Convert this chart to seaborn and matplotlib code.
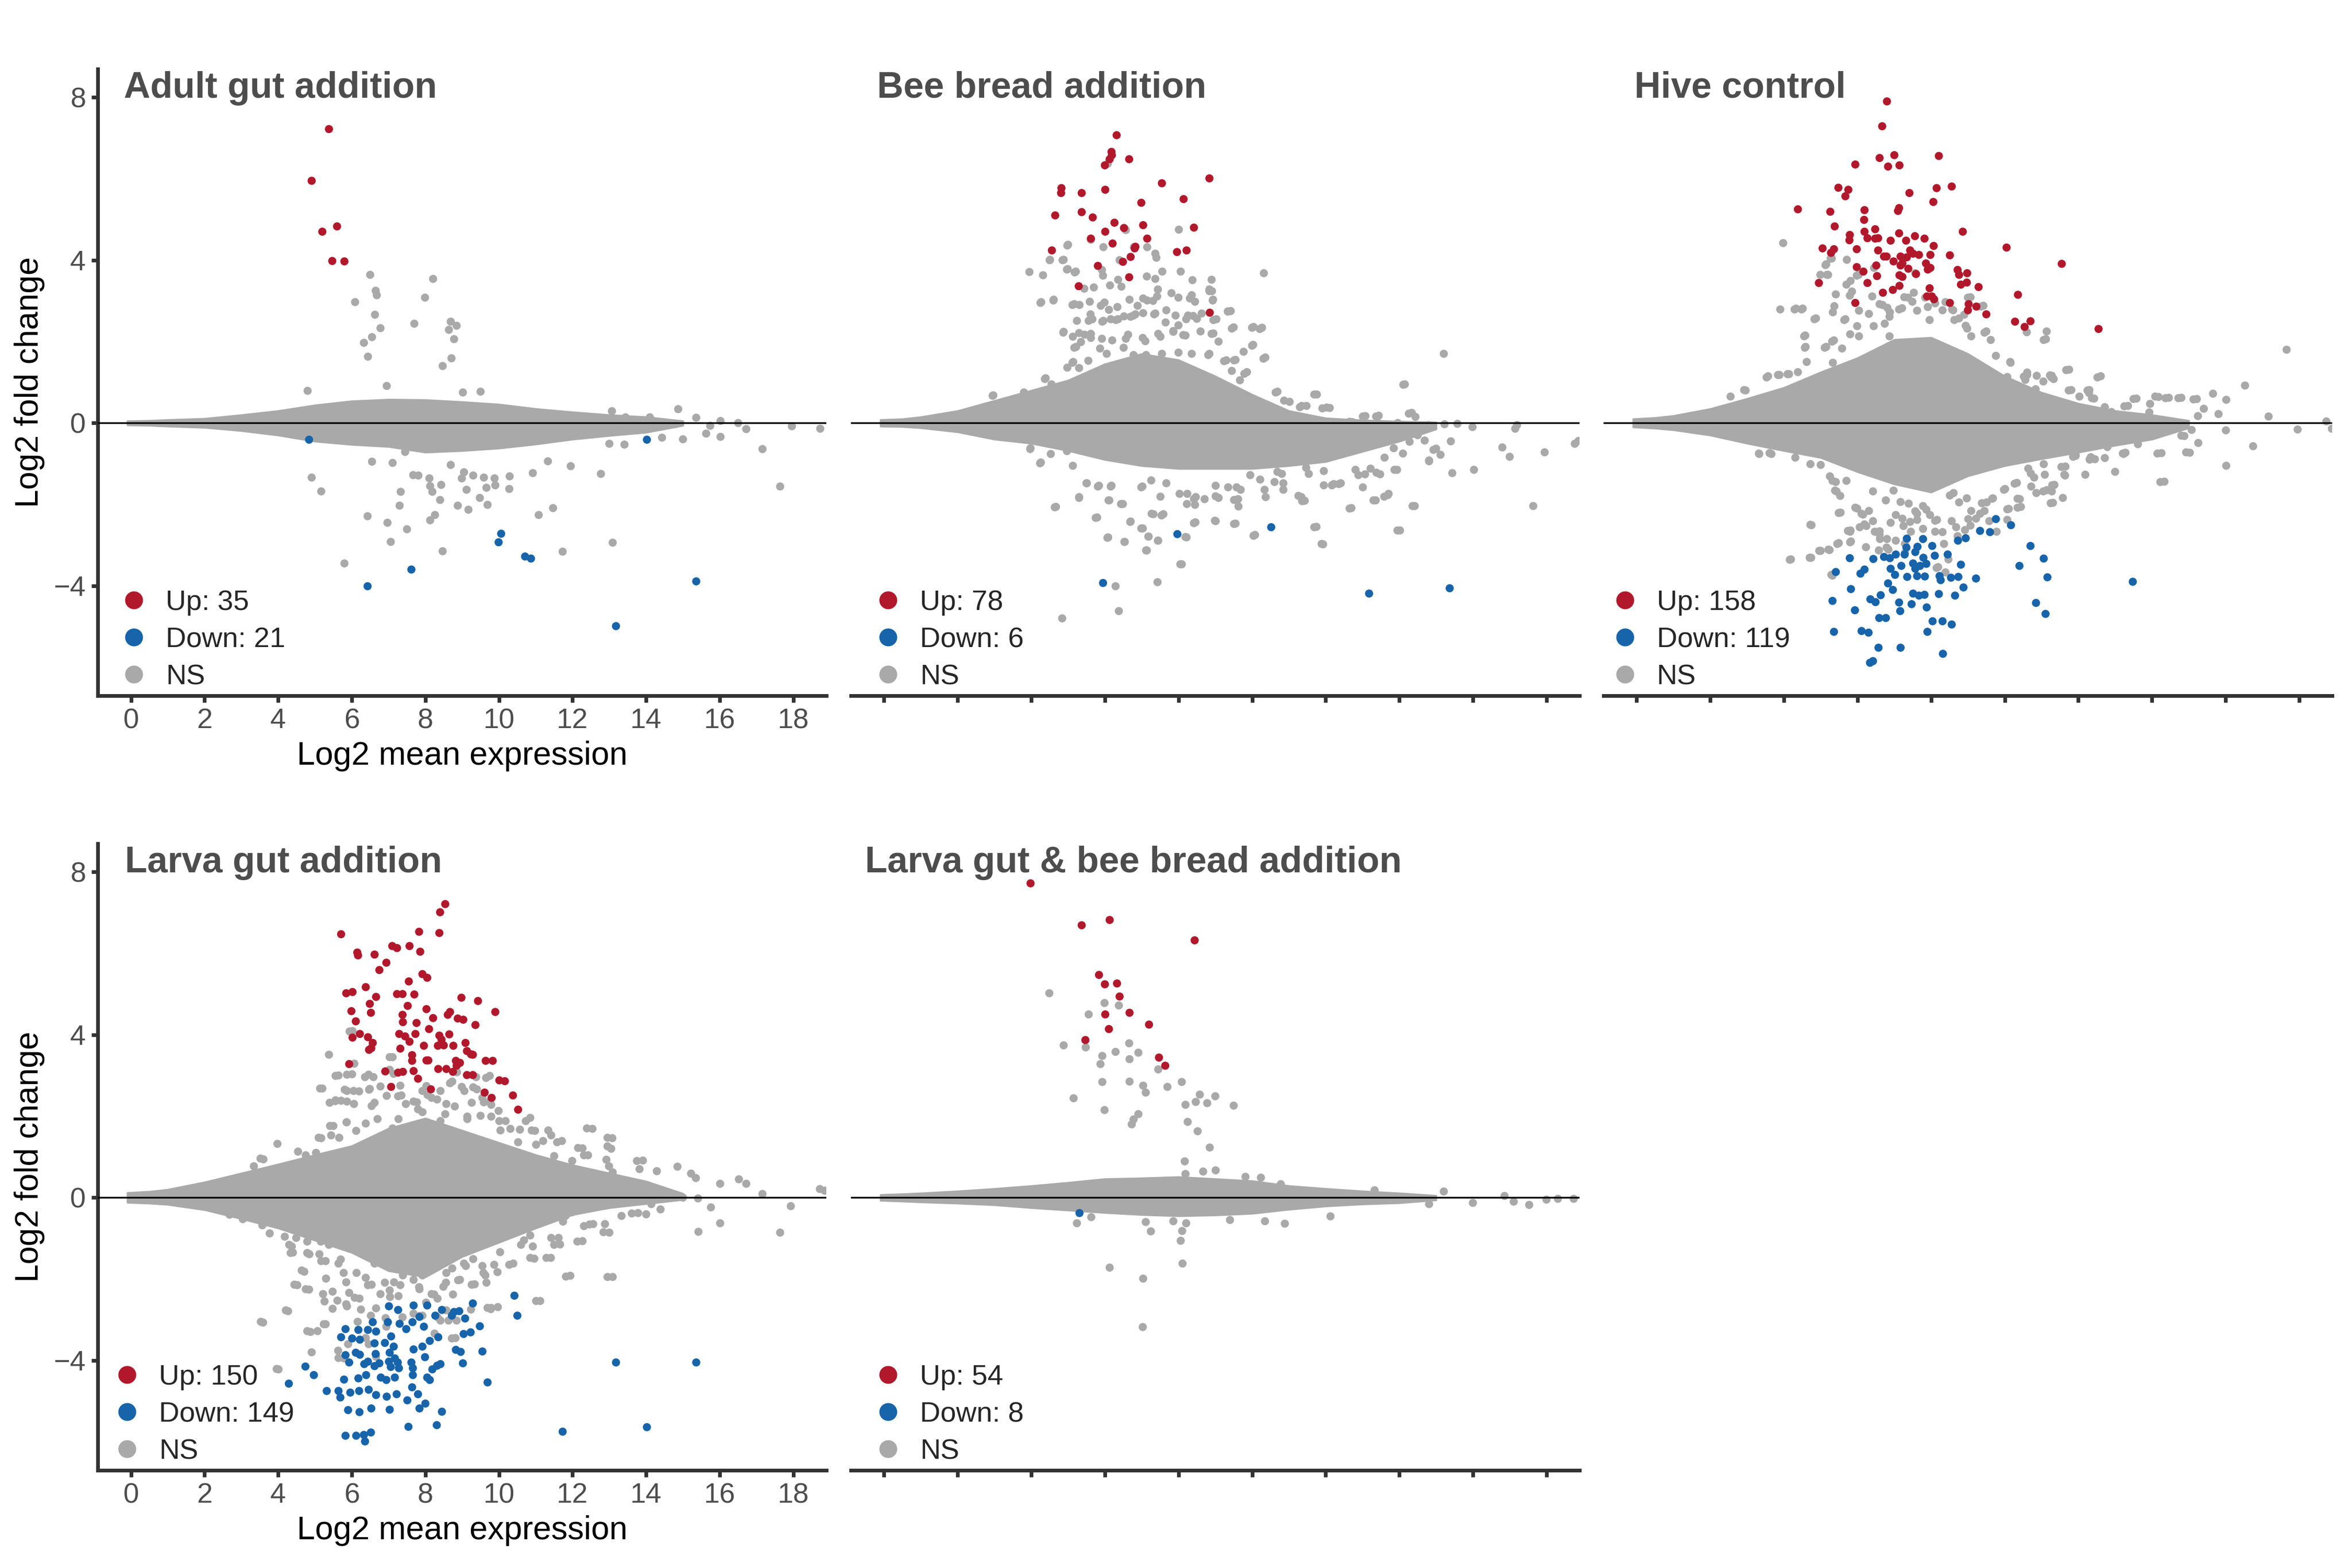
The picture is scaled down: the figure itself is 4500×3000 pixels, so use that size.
import matplotlib
matplotlib.use("Agg")
import matplotlib.pyplot as plt
from matplotlib.lines import Line2D
import pandas as pd
import seaborn as sns

sns.set_theme(style="white")
plt.rcParams['font.family'] = ['Liberation Sans', 'DejaVu Sans']

RED = "#B2182B"
BLUE = "#1764AB"
GREY = "#A9A9A9"

titles = ["Adult gut addition", "Bee bread addition", "Hive control",
          "Larva gut addition", "Larva gut & bee bread addition"]
up_counts = [35, 78, 158, 150, 54]
down_counts = [21, 6, 119, 149, 8]

# dense centre of each MA cloud, read as upper / lower outline
env_x = [-0.1, 0.5, 1, 2, 3, 4, 5, 6, 7, 8, 9, 10, 11, 12, 13, 14, 15]
adult_env_hi = [0.05, 0.06, 0.08, 0.11, 0.2, 0.3, 0.44, 0.54, 0.58, 0.57, 0.52, 0.46, 0.35, 0.27, 0.2, 0.15, 0.05]
adult_env_lo = [-0.05, -0.06, -0.08, -0.11, -0.19, -0.3, -0.45, -0.53, -0.58, -0.72, -0.68, -0.62, -0.52, -0.4, -0.31, -0.23, -0.06]
bread_env_hi = [0.08, 0.1, 0.15, 0.3, 0.55, 0.8, 1.05, 1.45, 1.7, 1.55, 1.15, 0.7, 0.3, 0.12, 0.07, 0.04, 0.02]
bread_env_lo = [-0.08, -0.09, -0.12, -0.22, -0.4, -0.5, -0.68, -0.9, -1.05, -1.12, -1.12, -1.12, -1.05, -0.95, -0.7, -0.45, -0.15]
hive_env_hi = [0.1, 0.13, 0.18, 0.35, 0.6, 0.87, 1.25, 1.6, 2.05, 2.1, 1.7, 1.15, 0.75, 0.48, 0.3, 0.2, 0.06]
hive_env_lo = [-0.1, -0.13, -0.17, -0.3, -0.5, -0.68, -0.85, -1.2, -1.5, -1.7, -1.3, -1.05, -0.88, -0.72, -0.55, -0.4, -0.12]
larva_env_hi = [0.12, 0.15, 0.2, 0.38, 0.6, 0.82, 1.05, 1.27, 1.7, 1.95, 1.65, 1.35, 1.05, 0.8, 0.6, 0.4, 0.1]
larva_env_lo = [-0.12, -0.14, -0.17, -0.3, -0.52, -0.75, -1.05, -1.35, -1.8, -1.95, -1.45, -1.1, -0.75, -0.42, -0.25, -0.15, -0.05]
mix_env_hi = [0.07, 0.09, 0.11, 0.16, 0.22, 0.29, 0.37, 0.46, 0.48, 0.51, 0.46, 0.41, 0.29, 0.22, 0.16, 0.11, 0.05]
mix_env_lo = [-0.07, -0.09, -0.11, -0.14, -0.18, -0.25, -0.31, -0.37, -0.42, -0.45, -0.43, -0.39, -0.29, -0.21, -0.16, -0.13, -0.06]

# ---- Adult gut addition
adult_up = [(5.38, 7.22), (4.91, 5.95), (5.20, 4.70), (5.60, 4.83), (5.47, 3.98), (5.80, 3.97)]
adult_down = [(4.84, -0.41), (6.43, -4.01), (7.62, -3.60), (9.99, -2.93), (10.06, -2.72),
              (10.71, -3.28), (10.87, -3.33), (13.18, -4.99), (15.36, -3.89), (14.02, -0.41)]
adult_ns = [(6.50, 3.64), (6.65, 3.25), (6.68, 3.14), (6.09, 2.97), (6.63, 2.66), (6.78, 2.33),
            (6.55, 2.11), (6.33, 1.97), (6.44, 1.63), (8.21, 3.54), (7.99, 3.08), (7.70, 2.44),
            (8.69, 2.49), (8.85, 2.39), (8.64, 2.29), (8.78, 2.06), (8.71, 1.59), (8.47, 1.40),
            (4.80, 0.79), (6.95, 0.91), (9.50, 0.77), (9.02, 0.75), (14.87, 0.34),
            (4.91, -1.34), (5.17, -1.68), (6.55, -0.95), (7.11, -0.98), (7.45, -0.71), (7.67, -1.28),
            (7.81, -1.29), (8.11, -1.36), (7.33, -1.69), (8.43, -1.52), (8.13, -1.55), (8.19, -1.69),
            (8.69, -1.03), (9.05, -1.21), (8.99, -1.36), (9.30, -1.29), (9.59, -1.34), (9.88, -1.36),
            (9.90, -1.53), (10.29, -1.31), (10.28, -1.62), (9.66, -1.59), (9.12, -1.64), (9.48, -1.84),
            (9.69, -2.01), (8.40, -1.89), (7.30, -2.03), (8.88, -2.03), (9.17, -2.13), (6.43, -2.29),
            (8.26, -2.26), (8.13, -2.39), (6.97, -2.45), (7.50, -2.61), (7.06, -2.92), (8.47, -3.15),
            (5.80, -3.45), (11.08, -2.26), (11.47, -2.09), (10.92, -1.23), (11.95, -1.06), (11.33, -0.94),
            (12.77, -1.25), (11.73, -3.16), (13.09, -2.94), (17.16, -0.64), (17.64, -1.56), (17.96, -0.08),
            (16.72, -0.15), (16.50, 0.0), (18.73, -0.14), (16.02, -0.34), (16.02, 0.05), (15.0, -0.40),
            (15.63, -0.26), (14.43, -0.36), (13.41, -0.53), (13.0, -0.51), (13.07, 0.29), (13.44, 0.14),
            (14.1, 0.14), (15.36, 0.13), (15.74, -0.07), (14.78, -0.03)]

# ---- Bee bread addition
bread_up = [(6.32, 7.07), (6.18, 6.66), (6.19, 6.58), (6.13, 6.48), (6.66, 6.48), (6.00, 6.33),
            (7.55, 5.89), (8.84, 6.01), (4.82, 5.77), (4.81, 5.65), (5.37, 5.65), (6.01, 5.73),
            (8.14, 5.50), (6.99, 5.41), (4.65, 5.10), (5.37, 5.18), (5.67, 5.05), (6.26, 4.92),
            (6.52, 4.79), (7.04, 4.86), (8.42, 4.80), (6.01, 4.70), (5.62, 4.53), (6.21, 4.41),
            (7.15, 4.53), (6.83, 4.33), (6.81, 4.29), (4.56, 4.24), (6.70, 4.08), (7.96, 4.20),
            (8.22, 4.24), (6.49, 3.96), (5.81, 3.86), (5.29, 3.36), (6.66, 3.58), (8.85, 2.71)]
bread_down = [(7.97, -2.73), (10.52, -2.56), (5.95, -3.93), (13.18, -4.19), (15.37, -4.06)]
bread_ns = [(3.95, 3.71), (4.32, 3.63), (4.51, 4.01), (4.88, 4.01), (5.00, 4.38), (4.99, 3.78),
            (5.21, 3.72), (4.27, 2.97), (4.61, 3.03), (5.62, 4.50), (5.96, 4.32), (6.08, 6.37),
            (6.57, 4.74), (6.40, 4.00), (5.92, 3.76), (5.95, 3.62), (6.36, 3.52), (6.79, 4.32),
            (7.15, 4.32), (7.37, 4.16), (7.40, 4.06), (7.56, 3.72), (8.01, 4.75), (8.06, 3.72),
            (7.14, 3.60), (7.37, 3.54), (8.38, 3.51), (8.90, 3.52), (10.32, 3.68), (8.91, 3.24),
            (8.84, 3.24), (9.42, 2.75), (8.94, 3.03), (8.45, 2.98), (7.44, 3.28), (7.81, 3.19),
            (8.31, 3.06), (6.45, 3.35), (6.14, 3.38), (5.70, 3.33), (5.44, 3.30), (5.59, 2.98),
            (5.99, 2.96), (6.67, 3.03), (7.04, 3.06), (7.31, 3.00), (5.31, 2.90), (5.17, 2.92),
            (4.88, 2.24), (5.13, 2.12), (5.22, 1.87), (5.66, 2.55), (5.96, 2.51), (6.30, 2.53),
            (6.70, 2.61), (6.83, 2.67), (7.37, 2.69), (7.67, 2.77), (7.92, 2.64), (8.26, 2.64),
            (8.50, 2.56), (9.03, 2.55), (10.04, 2.36), (10.27, 2.34), (10.03, 1.92), (10.36, 1.61),
            (9.55, 1.55), (9.30, 1.54), (9.86, 1.25), (9.50, 2.35), (8.95, 2.20), (8.84, 1.70),
            (8.19, 2.15), (7.86, 2.26), (7.51, 2.12), (7.10, 2.01), (6.57, 2.07), (5.92, 2.07),
            (5.62, 2.19), (5.30, 2.21), (5.14, 1.50), (5.55, 1.53), (6.01, 1.36), (4.98, 1.36),
            (4.39, 1.10), (4.55, 0.95), (2.97, 0.68), (10.69, 0.77), (11.02, 0.52), (11.76, 0.70),
            (11.35, 0.42), (12.11, 0.37), (14.15, 0.95), (15.21, 1.70), (14.34, 0.25), (14.44, 0.15),
            (13.08, 0.17), (13.44, 0.18), (13.96, 0.0), (12.73, 0.02), (14.79, -0.05), (15.23, -0.03),
            (15.58, -0.02), (15.99, -0.10), (17.15, -0.14), (17.20, -0.05), (17.95, -0.72), (18.77, -0.51),
            (18.87, -0.44),
            (4.25, 2.95), (4.60, 3.01), (4.85, 4.00), (4.50, 4.00), (4.97, 3.77), (5.18, 3.70),
            (4.98, 4.36), (5.12, 2.90), (5.24, 2.51), (4.87, 2.22), (5.17, 1.85), (5.12, 1.48),
            (5.30, 1.35), (4.37, 1.08), (3.80, 0.75), (2.95, 0.67), (5.45, 2.17), (5.35, 1.99),
            (5.62, 2.09), (5.56, 2.51), (5.61, 2.67), (5.93, 2.49), (6.16, 2.55), (6.36, 2.55),
            (6.52, 2.62), (6.78, 2.64), (7.04, 2.70), (7.34, 2.67), (7.65, 2.47), (8.0, 2.40),
            (8.21, 2.55), (8.40, 2.63), (8.63, 2.69), (8.95, 2.53), (9.34, 2.74), (9.45, 2.32),
            (10.0, 2.34), (10.21, 2.31), (10.0, 1.90), (10.31, 1.58), (9.77, 1.75), (9.51, 1.54),
            (9.24, 1.52), (9.09, 2.0), (8.90, 2.19), (8.60, 2.25), (8.13, 2.16), (7.86, 2.24),
            (7.45, 2.19), (7.03, 2.09), (6.63, 2.17), (6.20, 2.03), (5.87, 1.83), (6.05, 1.70),
            (6.51, 1.85), (6.78, 1.67), (7.12, 1.67), (7.55, 1.70), (8.0, 1.73), (8.36, 1.70),
            (8.81, 1.67), (9.45, 1.28), (9.79, 1.21), (9.67, 1.05), (10.64, 0.75), (10.87, 0.55),
            (11.69, 0.70), (12.03, 0.38), (11.30, 0.39), (11.48, 0.42), (13.01, 0.16), (13.37, 0.16),
            (14.26, 0.23), (14.11, 0.94), (5.89, 2.88), (6.11, 2.78), (6.34, 2.85), (6.89, 2.88),
            (7.15, 3.01), (7.42, 3.11), (8.0, 3.08), (8.36, 3.14), (8.84, 3.28), (8.93, 3.01),
            (9.35, 2.74), (11.91, 0.36), (12.65, 0.03), (13.42, 0.0), (12.24, -0.23),
            (3.98, -0.62), (4.26, -0.97), (4.67, -2.06), (5.30, -1.82), (5.51, -1.48), (5.84, -1.54),
            (6.18, -1.54), (5.79, -2.32), (6.12, -1.90), (6.49, -1.99), (6.70, -2.42), (7.02, -1.56),
            (7.32, -2.24), (7.51, -1.81), (7.59, -2.24), (7.03, -2.59), (7.19, -2.79), (7.44, -2.89),
            (7.14, -3.13), (6.09, -2.81), (6.54, -2.92), (8.09, -3.47), (8.22, -2.81), (8.23, -1.99),
            (8.47, -1.82), (8.45, -2.01), (8.46, -2.44), (9.01, -2.41), (9.01, -1.80), (9.55, -2.47),
            (9.63, -2.05), (9.62, -1.87), (10.08, -2.75), (10.37, -1.82), (11.34, -1.82), (11.43, -1.91),
            (11.75, -2.55), (11.93, -2.98), (12.70, -2.09), (13.36, -1.90), (13.69, -1.77), (14.02, -2.64),
            (14.42, -2.04), (17.64, -2.04), (13.07, -1.26), (13.48, -1.26), (12.22, -1.50), (12.41, -1.48),
            (16.03, -1.15), (15.44, -1.23), (17.0, -0.83), (16.80, -0.60), (15.12, -0.78), (14.81, -0.94),
            (13.94, -1.15), (13.85, -0.62), (13.18, -0.51), (15.0, -0.63), (7.43, -3.91), (6.29, -4.01),
            (6.38, -4.62), (4.84, -4.80), (10.69, -1.20), (11.95, -1.53), (11.47, -1.10),
            (3.97, -0.64), (4.24, -0.99), (4.53, -0.76), (4.97, -0.69), (5.13, -1.05), (5.50, -1.48),
            (5.81, -1.56), (6.16, -1.56), (5.30, -1.84), (6.10, -1.90), (6.44, -1.99), (4.64, -2.07),
            (5.75, -2.33), (6.69, -2.43), (6.99, -1.58), (7.26, -1.41), (7.67, -1.48), (8.03, -1.74),
            (8.24, -1.74), (8.42, -1.87), (8.71, -1.87), (9.01, -1.54), (9.35, -1.58), (9.58, -1.58),
            (9.69, -1.64), (9.51, -1.89), (9.09, -1.84), (8.99, -2.40), (8.42, -2.46), (7.27, -2.23),
            (7.54, -2.27), (6.99, -2.59), (7.18, -2.79), (7.45, -2.89), (7.12, -3.13), (6.07, -2.82),
            (6.53, -2.92), (8.05, -3.47), (8.19, -2.80), (10.04, -2.77), (9.51, -2.48), (10.22, -1.39),
            (10.61, -1.45), (10.85, -1.48), (10.34, -1.64), (11.26, -1.79), (11.36, -1.92), (11.69, -2.56),
            (11.89, -2.97), (12.17, -1.53), (12.36, -1.50), (12.65, -2.10), (13.01, -1.58), (13.30, -1.90),
            (13.59, -1.81), (13.71, -1.74), (13.95, -2.64), (14.36, -2.04), (12.89, -1.28), (13.22, -1.12),
            (13.38, -1.22), (13.87, -1.15), (13.83, -0.40), (14.28, -0.46), (14.69, -0.43), (14.73, -0.07),
            (14.81, -0.92), (14.93, -0.66), (11.95, -1.18), (11.54, -1.25), (10.81, -1.25), (9.95, -1.28),
            (10.85, -1.64), (12.81, -1.15), (13.6, -0.85), (14.1, -0.75), (14.5, -0.3), (15.4, -0.45)]

# ---- Hive control
hive_up = [(6.80, 7.90), (6.67, 7.29), (6.60, 6.51), (7.00, 6.58), (6.83, 6.30), (7.14, 6.33),
           (8.21, 6.56), (5.94, 6.35), (5.48, 5.78), (5.75, 5.73), (5.67, 5.57), (7.41, 5.65),
           (8.15, 5.77), (8.56, 5.81), (8.06, 5.43), (4.38, 5.25), (5.26, 5.19), (6.19, 5.23),
           (7.13, 5.28), (7.10, 5.21), (6.18, 4.99), (5.38, 4.83), (6.19, 4.70), (6.48, 4.76),
           (5.79, 4.62), (5.78, 4.49), (6.48, 4.53), (6.27, 4.54), (6.56, 4.54), (6.90, 4.48),
           (7.13, 4.66), (7.32, 4.48), (7.56, 4.59), (7.82, 4.53), (8.07, 4.35), (8.86, 4.70),
           (5.05, 4.29), (5.36, 4.27), (5.98, 4.27), (5.28, 4.18), (6.56, 4.24), (7.43, 4.24),
           (7.51, 4.16), (6.72, 4.09), (6.79, 4.09), (6.98, 3.97), (7.17, 4.09), (7.22, 3.92),
           (7.34, 4.07), (7.67, 4.13), (7.98, 4.13), (8.51, 4.12), (10.05, 4.31), (11.55, 3.91),
           (5.98, 3.83), (6.51, 3.87), (7.17, 3.87), (7.86, 3.92), (7.91, 3.77), (7.38, 3.79),
           (6.16, 3.72), (6.53, 3.61), (7.14, 3.63), (7.22, 3.59), (7.59, 3.66), (7.98, 3.81),
           (8.72, 3.76), (8.76, 3.64), (8.98, 3.68), (4.95, 3.44), (6.27, 3.44), (7.14, 3.37),
           (7.96, 3.31), (8.02, 3.11), (8.81, 3.40), (8.97, 3.45), (9.29, 3.34), (6.69, 3.20),
           (6.96, 3.27), (7.89, 3.11), (8.08, 3.04), (8.51, 2.95), (5.94, 2.95), (10.36, 3.15),
           (9.02, 2.92), (9.23, 2.86), (9.00, 2.77), (9.50, 2.67), (10.28, 2.49), (10.70, 2.50),
           (10.54, 2.36), (12.55, 2.31)]
hive_down = [(9.76, -2.36), (10.17, -2.51), (9.33, -2.65), (9.60, -2.68), (8.94, -2.83), (8.73, -2.89),
             (8.03, -3.02), (7.78, -2.85), (7.57, -3.17), (7.63, -3.04), (10.70, -3.02), (11.06, -3.33),
             (10.40, -3.51), (11.16, -3.79), (13.48, -3.90), (10.85, -4.42), (11.11, -4.69), (5.79, -3.32),
             (6.43, -3.34), (6.72, -3.29), (6.88, -3.32), (7.04, -3.23), (7.28, -3.23), (7.51, -3.45),
             (7.79, -3.31), (8.10, -3.26), (8.45, -3.23), (5.41, -3.66), (6.08, -3.70), (6.19, -3.60),
             (6.90, -3.58), (7.19, -3.51), (7.57, -3.58), (7.70, -3.51), (7.87, -3.46), (8.23, -3.76),
             (8.54, -3.80), (8.81, -3.48), (9.22, -3.82), (7.02, -3.73), (7.35, -3.78), (7.62, -3.76),
             (7.83, -3.77), (8.26, -3.86), (8.74, -3.78), (6.83, -3.94), (6.96, -4.10), (5.82, -4.08),
             (6.63, -4.23), (6.35, -4.33), (6.49, -4.40), (7.51, -4.19), (7.67, -4.24), (7.82, -4.22),
             (8.21, -4.20), (8.65, -4.24), (8.88, -4.04), (5.32, -4.37), (7.13, -4.41), (7.47, -4.45),
             (7.88, -4.53), (5.93, -4.60), (7.16, -4.62), (6.59, -4.79), (6.77, -4.79), (8.04, -4.87),
             (8.31, -4.87), (8.56, -4.95), (5.36, -5.13), (6.11, -5.11), (6.30, -5.15), (7.90, -5.13),
             (6.57, -5.52), (7.17, -5.52), (8.32, -5.67), (6.34, -5.89), (6.42, -5.85), (7.34, -2.84),
             (7.33, -3.06)]
hive_ns = [(3.98, 4.42), (3.90, 2.79), (4.33, 2.81), (4.51, 2.81), (4.87, 2.57), (4.58, 2.15),
           (4.59, 1.87), (5.15, 1.87), (5.36, 2.03), (4.99, 3.64), (5.20, 3.64), (5.30, 4.04),
           (5.15, 3.90), (5.71, 4.01), (6.03, 3.64), (5.81, 3.49), (5.79, 3.13), (5.37, 2.87),
           (5.33, 2.72), (5.67, 2.55), (6.04, 2.76), (5.99, 2.38), (6.40, 3.11), (6.45, 3.81),
           (6.60, 2.92), (6.81, 2.83), (6.87, 2.61), (6.74, 2.44), (7.21, 2.82), (7.27, 3.09),
           (7.49, 2.98), (7.62, 2.76), (7.91, 2.85), (7.96, 2.53), (8.31, 2.77), (8.60, 2.77),
           (8.63, 2.53), (9.07, 3.09), (9.42, 2.88), (8.98, 2.32), (8.94, 2.39), (9.50, 2.25),
           (10.60, 2.23), (11.12, 2.06), (10.15, 1.50), (10.61, 1.18), (10.87, 1.16), (11.28, 1.16),
           (11.75, 1.31), (12.61, 1.15), (11.81, 0.81), (12.30, 0.81), (12.43, 0.60), (12.29, 0.74),
           (13.58, 0.60), (14.18, 0.64), (14.46, 0.62), (14.80, 0.62), (15.22, 0.59), (15.66, 0.72),
           (16.02, 0.57), (16.53, 0.92), (17.66, 1.80), (17.17, 0.16), (17.96, -0.16), (18.74, 0.04),
           (18.89, -0.14), (15.41, 0.35), (16.01, -0.18), (15.81, 0.22), (15.25, 0.17), (15.08, -0.17),
           (14.88, -0.32), (14.70, -0.06), (15.26, -0.49), (15.03, -0.73), (14.26, -0.74), (14.34, -1.44),
           (16.02, -1.05), (16.75, -0.57), (13.93, 0.26), (13.35, 0.42), (12.90, 0.27), (3.57, 1.15),
           (3.88, 1.18), (4.14, 1.20), (2.96, 0.80), (3.33, -0.76), (3.66, -0.76), (2.99, -0.42),
           (3.84, -0.57), (11.14, 2.25), (10.52, 1.14), (11.27, 1.12), (13.23, -0.76), (13.62, -0.52),
           (12.34, -0.84), (12.45, -0.89), (11.92, -0.81),
           (4.29, 2.79), (4.48, 2.79), (4.83, 2.55), (4.55, 2.13), (4.57, 1.85), (4.62, 1.50),
           (5.11, 1.85), (5.31, 2.0), (5.58, 1.83), (5.33, 1.48), (3.53, 1.12), (3.84, 1.18),
           (4.10, 1.20), (4.38, 1.25), (2.92, 0.81), (2.55, 0.65), (5.13, 3.88), (5.17, 3.64),
           (5.27, 4.04), (5.41, 3.16), (5.64, 2.53), (5.70, 3.40), (5.85, 3.23), (5.98, 3.62),
           (5.80, 2.18), (6.04, 2.13), (6.31, 2.68), (6.44, 2.38), (6.68, 2.90), (6.88, 2.72),
           (6.87, 2.13), (7.13, 2.79), (7.37, 3.08), (7.53, 3.20), (7.57, 3.68), (7.84, 3.08),
           (8.11, 2.94), (8.39, 2.97), (8.57, 2.79), (8.76, 2.57), (9.00, 3.08), (8.90, 2.66),
           (9.09, 2.13), (9.35, 2.86), (9.45, 2.22), (9.62, 2.04), (9.76, 1.65), (10.16, 1.48),
           (10.07, 1.13), (10.61, 1.24), (11.06, 2.04), (11.67, 1.30), (11.23, 1.17), (11.33, 1.08),
           (12.52, 1.12), (11.74, 0.80), (12.25, 0.80), (12.37, 0.61), (13.50, 0.59), (14.09, 0.65),
           (14.37, 0.61), (14.72, 0.61), (15.13, 0.58), (13.95, 0.47), (13.25, 0.41), (12.72, 0.39),
           (12.03, 0.65), (11.05, 1.02), (10.56, 1.06), (10.84, 0.83),
           (4.75, -2.51), (4.19, -3.35), (4.74, -3.31), (5.00, -3.14), (5.24, -3.12), (5.49, -2.95),
           (5.82, -2.91), (5.32, -3.75), (5.54, -2.20), (5.32, -1.42), (5.39, -1.66), (5.70, -1.42),
           (5.81, -2.64), (5.99, -2.10), (6.15, -2.25), (6.24, -2.53), (6.42, -2.41), (6.60, -2.66),
           (6.61, -2.85), (6.79, -3.06), (6.42, -1.68), (6.77, -1.90), (6.98, -1.66), (7.17, -1.94),
           (7.22, -2.35), (7.43, -2.43), (7.57, -2.17), (7.87, -2.13), (8.16, -2.38), (8.31, -2.68),
           (8.47, -3.35), (8.19, -3.54), (8.61, -1.72), (8.76, -1.95), (8.97, -1.85), (9.01, -2.36),
           (9.22, -2.35), (9.38, -1.97), (9.51, -1.95), (9.68, -1.85), (10.11, -2.11), (10.41, -1.87),
           (10.44, -2.06), (10.01, -1.62), (10.33, -1.47), (10.86, -1.72), (11.28, -1.68), (11.65, -1.07),
           (11.64, -1.29), (11.35, -1.52), (11.14, -1.65), (11.31, -1.96), (10.71, -1.24), (11.06, -1.01),
           (13.28, -0.73), (11.93, -0.80), (12.31, -0.89), (12.79, -0.59), (12.66, -0.30),
           (3.32, -0.75), (3.61, -0.74), (4.31, -0.85), (4.72, -1.01), (5.00, -1.03), (5.25, -1.31),
           (5.41, -1.45), (5.43, -1.68), (5.53, -1.79), (5.49, -2.21), (5.94, -2.08), (6.11, -2.23),
           (6.31, -2.16), (5.80, -2.67), (5.74, -2.65), (6.06, -2.56), (6.19, -2.49), (6.47, -2.67),
           (6.60, -2.74), (6.80, -2.85), (7.04, -2.89), (5.45, -2.97), (5.21, -3.11), (4.96, -3.14),
           (4.72, -2.50), (4.16, -3.36), (4.70, -3.31), (5.29, -3.73), (5.80, -2.93), (6.23, -3.05),
           (6.58, -3.13), (6.84, -3.11), (7.29, -3.19), (6.90, -2.45), (7.04, -2.26), (7.39, -1.98),
           (7.62, -2.23), (7.78, -2.04), (7.97, -2.26), (8.11, -2.40), (8.56, -2.41), (8.68, -2.56),
           (8.92, -2.63), (9.07, -2.52), (9.33, -2.23), (9.45, -2.16), (9.66, -1.86), (9.98, -1.64),
           (10.27, -1.49), (10.35, -1.86), (10.35, -2.08), (10.07, -2.12), (10.72, -1.56), (11.25, -1.97),
           (11.58, -1.84), (11.62, -1.27), (11.05, -1.68), (11.29, -1.53), (11.09, -1.27), (11.86, -0.83),
           (12.31, -0.90), (12.72, -0.86), (13.21, -0.75), (14.23, -1.45), (14.93, -0.72), (14.15, -0.75),
           (14.80, -0.31), (13.0, -1.20), (12.19, -1.27), (11.54, -1.08), (10.64, -1.12), (10.80, -1.34),
           (8.51, -1.78), (9.09, -2.16), (9.58, -2.41), (9.78, -2.67), (10.07, -2.38), (8.72, -2.78),
           (8.35, -2.97), (8.11, -2.67), (7.78, -2.60), (7.45, -2.67), (7.62, -2.38), (7.25, -2.53),
           (7.29, -2.97), (8.39, -3.67), (8.15, -3.56)]

# ---- Larva gut addition
larva_up = [(8.54, 7.21), (8.40, 7.01), (5.71, 6.47), (7.83, 6.53), (8.38, 6.50), (6.15, 6.02),
            (6.17, 5.95), (6.62, 5.97), (7.10, 6.18), (7.23, 6.13), (7.57, 6.18), (7.86, 6.04),
            (6.94, 5.77), (6.75, 5.59), (7.92, 5.49), (8.05, 5.40), (7.55, 5.31), (6.38, 5.17),
            (5.85, 5.02), (6.02, 5.05), (7.23, 5.00), (7.38, 5.00), (7.70, 4.99), (6.66, 4.93),
            (8.98, 4.91), (9.43, 4.83), (6.49, 4.76), (7.52, 4.71), (5.99, 4.58), (6.52, 4.54),
            (8.03, 4.63), (8.67, 4.56), (8.61, 4.49), (9.90, 4.56), (7.38, 4.49), (7.39, 4.31),
            (8.21, 4.41), (8.88, 4.40), (9.03, 4.37), (7.76, 4.29), (6.11, 4.33), (9.36, 4.24),
            (7.29, 4.02), (6.22, 4.02), (6.44, 3.94), (6.02, 3.93), (7.45, 3.96), (7.73, 4.02),
            (8.10, 4.14), (8.65, 4.01), (8.38, 3.98), (8.44, 3.88), (6.57, 3.80), (6.53, 3.67),
            (6.47, 3.63), (7.57, 3.83), (7.96, 3.73), (8.34, 3.73), (8.50, 3.74), (8.76, 3.73),
            (9.09, 3.80), (9.13, 3.60), (7.32, 3.66), (7.64, 3.50), (7.64, 3.36), (8.03, 3.37),
            (8.08, 3.37), (8.83, 3.36), (8.94, 3.31), (9.24, 3.52), (8.85, 3.24), (9.64, 3.36),
            (9.83, 3.36), (5.93, 3.28), (6.91, 3.10), (7.26, 3.07), (7.39, 3.09), (7.68, 3.11),
            (7.80, 2.92), (8.35, 3.16), (8.57, 3.16), (8.75, 3.09), (9.13, 3.01), (9.29, 3.01),
            (10.01, 2.88), (10.16, 2.86), (7.07, 2.72), (8.15, 2.66), (9.61, 2.58), (9.80, 2.45),
            (10.38, 2.51), (10.52, 2.16), (9.29, 3.51)]
larva_down = [(10.42, -2.41), (10.50, -2.90), (9.29, -2.60), (8.92, -2.79), (8.78, -2.81), (8.45, -2.76),
              (8.05, -2.65), (7.68, -2.65), (7.26, -2.76), (7.01, -2.67), (6.57, -3.06), (6.98, -3.06),
              (7.30, -3.10), (7.65, -3.06), (7.84, -2.93), (8.27, -2.90), (8.72, -2.90), (9.08, -2.97),
              (9.48, -3.16), (9.23, -3.31), (9.04, -3.35), (8.35, -3.43), (8.12, -3.52), (7.96, -3.17),
              (7.48, -3.23), (7.07, -3.41), (6.66, -3.29), (6.44, -3.25), (6.18, -3.25), (5.83, -3.23),
              (5.71, -3.43), (6.01, -3.46), (6.22, -3.49), (6.62, -3.58), (6.90, -3.57), (7.14, -3.66),
              (7.68, -3.73), (7.92, -3.66), (8.83, -3.74), (8.96, -3.79), (9.55, -3.78), (9.02, -4.07),
              (9.69, -4.54), (5.83, -3.87), (6.11, -3.81), (6.22, -3.86), (6.65, -3.84), (7.03, -3.81),
              (7.17, -3.95), (7.25, -4.05), (7.62, -4.05), (7.99, -3.92), (8.32, -4.13), (8.41, -4.09),
              (8.19, -4.22), (5.93, -4.05), (6.34, -4.09), (6.44, -4.03), (6.62, -4.14), (6.75, -4.07),
              (7.01, -4.03), (7.06, -4.16), (7.28, -4.19), (7.66, -4.19), (6.39, -4.36), (6.18, -4.44),
              (5.79, -4.47), (6.79, -4.42), (6.94, -4.48), (7.17, -4.42), (7.66, -4.36), (8.05, -4.42),
              (8.12, -4.48), (4.74, -4.15), (4.97, -4.36), (4.29, -4.57), (5.32, -4.75), (5.64, -4.75),
              (5.96, -4.79), (6.20, -4.75), (6.46, -4.72), (5.69, -4.91), (6.66, -4.85), (6.95, -4.89),
              (7.22, -4.83), (7.64, -4.66), (7.80, -4.83), (7.51, -4.98), (7.84, -5.18), (8.00, -5.06),
              (8.45, -5.26), (5.90, -5.22), (6.21, -5.27), (6.53, -5.18), (7.03, -5.21), (7.54, -5.63),
              (8.31, -5.59), (5.83, -5.85), (6.12, -5.85), (6.33, -5.83), (6.52, -5.77), (6.36, -5.99),
              (13.18, -4.05), (15.36, -4.05), (11.73, -5.75), (14.02, -5.64)]
larva_ns = [(6.02, 4.09), (5.38, 3.51), (5.64, 3.00), (6.01, 3.03), (6.46, 3.02), (6.49, 2.67),
            (6.20, 2.61), (5.87, 2.62), (5.20, 2.68), (5.55, 2.37), (5.71, 2.38), (6.06, 2.30),
            (5.50, 1.76), (5.86, 1.85), (5.17, 1.46), (3.98, 1.32), (3.60, 0.94), (7.11, 3.45),
            (7.14, 3.04), (7.32, 2.75), (7.35, 2.51), (7.77, 2.34), (8.06, 2.52), (7.80, 2.17),
            (8.03, 2.74), (8.32, 2.41), (8.67, 2.81), (8.99, 2.72), (9.40, 2.66), (9.75, 2.99),
            (9.26, 2.33), (9.59, 2.34), (9.75, 2.36), (8.80, 2.24), (8.54, 2.05), (9.14, 1.99),
            (9.50, 2.01), (9.99, 2.13), (10.01, 1.88), (10.31, 1.69), (10.57, 1.67), (10.85, 1.96),
            (10.98, 1.64), (11.20, 1.39), (11.71, 1.39), (12.54, 1.69), (12.27, 1.21), (12.42, 1.04),
            (13.08, 1.46), (13.05, 1.20), (12.99, 0.77), (13.09, 0.62), (13.91, 0.91), (14.29, 0.65),
            (14.85, 0.76), (15.22, 0.59), (15.35, 0.48), (16.01, 0.34), (16.52, 0.45), (16.72, 0.34),
            (17.16, 0.09), (18.72, 0.21), (18.85, 0.17), (17.93, -0.21), (17.64, -0.86), (16.01, -0.63),
            (15.76, -0.24), (15.42, -0.84), (15.41, -0.02), (15.0, 0.0), (14.53, -0.01), (14.14, -0.16),
            (14.39, -0.29), (13.78, -0.38), (13.0, -0.86), (13.09, -1.95), (11.94, -1.92), (11.12, -2.54),
            (12.27, -1.07), (11.66, -1.15), (11.41, -1.48), (10.96, -1.50), (10.39, -1.62), (10.92, -1.20),
            (11.62, -0.99), (11.81, -0.45), (12.46, -0.66), (9.97, -2.69), (9.78, -2.74), (9.24, -2.75),
            (8.82, -3.45), (8.63, -3.02), (8.41, -3.02), (7.92, -2.90), (8.02, -2.58), (6.66, -2.72),
            (7.04, -2.44), (8.24, -2.38), (8.89, -2.03), (9.34, -2.13), (9.05, -1.62), (9.58, -1.85),
            (9.66, -2.09), (9.96, -1.83), (8.75, -2.38), (8.56, -2.09), (7.83, -2.20), (7.32, -2.15),
            (6.90, -2.09), (6.44, -2.15), (6.08, -2.46), (6.25, -2.75), (6.52, -2.90), (6.92, -2.96),
            (5.87, -2.67), (5.61, -2.53), (5.26, -2.55), (5.48, -2.73), (5.29, -3.11), (4.88, -3.30),
            (4.27, -2.79), (3.59, -3.07), (4.01, -4.22), (5.63, -3.76), (5.90, -3.60), (5.79, -3.95),
            (4.52, -2.15), (4.84, -2.26), (4.71, -1.82), (4.40, -1.35), (4.37, -1.20), (4.85, -1.39),
            (5.29, -1.56), (5.70, -1.52), (8.85, -3.02), (7.68, -2.85),
            (3.52, 0.96), (3.34, 0.77), (4.54, 1.13), (4.75, 1.04), (5.03, 1.10), (5.10, 1.47),
            (5.41, 1.76), (5.44, 1.53), (5.66, 1.47), (5.86, 1.85), (6.12, 1.64), (6.38, 1.82),
            (5.40, 2.33), (5.56, 2.39), (5.87, 2.36), (6.05, 2.62), (5.14, 2.68), (5.81, 2.65),
            (5.56, 2.99), (5.87, 3.02), (6.07, 3.29), (5.94, 4.08), (6.36, 2.96), (6.59, 2.96),
            (6.47, 2.65), (6.62, 2.33), (6.54, 2.25), (6.78, 2.73), (6.95, 2.50), (7.03, 3.45),
            (7.03, 3.14), (7.26, 2.49), (7.47, 2.30), (7.68, 2.36), (7.92, 2.62), (7.92, 2.10),
            (8.17, 2.45), (8.41, 2.62), (8.57, 2.30), (8.73, 2.85), (8.86, 3.08), (9.06, 2.62),
            (9.30, 2.71), (9.38, 2.96), (9.65, 2.94), (9.55, 2.45), (9.79, 2.28), (9.79, 1.99),
            (10.18, 1.88), (10.73, 1.88), (10.89, 1.65), (11.34, 1.65), (11.58, 1.36), (11.42, 1.53),
            (12.39, 1.70), (12.15, 1.22), (12.31, 1.04), (12.95, 1.47), (12.95, 1.26), (12.92, 0.93),
            (13.75, 0.90), (13.82, 0.70), (11.99, 0.90), (11.50, 1.02), (11.01, 1.30), (10.52, 1.36),
            (10.04, 1.65), (9.14, 1.93), (8.41, 1.88), (7.27, 1.93), (6.70, 1.93), (7.11, 1.70),
            (2.68, -0.42), (3.04, -0.53), (3.57, -0.68), (3.77, -0.88), (4.18, -0.96), (4.49, -0.99),
            (4.30, -1.16), (4.34, -1.36), (4.79, -1.36), (4.79, -1.08), (5.16, -1.08), (5.38, -1.16),
            (5.52, -1.05), (5.12, -1.39), (5.17, -1.56), (5.64, -1.62), (4.64, -1.79), (4.44, -2.14),
            (4.75, -2.25), (5.30, -1.99), (5.78, -1.85), (5.85, -2.08), (5.22, -2.37), (5.48, -2.31),
            (5.93, -2.34), (6.21, -2.48), (5.85, -2.62), (6.13, -1.85), (6.38, -1.97), (6.54, -2.14),
            (6.62, -1.62), (6.78, -2.37), (7.03, -2.28), (7.27, -2.42), (7.15, -2.08), (7.39, -1.91),
            (7.68, -2.02), (7.84, -2.25), (7.92, -1.91), (8.17, -2.37), (8.33, -2.48), (8.49, -2.19),
            (8.57, -1.85), (8.73, -1.74), (8.94, -2.02), (9.10, -1.68), (9.26, -2.14), (9.30, -1.51),
            (9.55, -1.68), (9.63, -1.91), (9.87, -1.65), (10.28, -1.65), (10.03, -1.34), (10.60, -1.16),
            (10.85, -1.48), (11.29, -1.48), (10.68, -1.05), (10.85, -0.93), (11.42, -0.99), (11.50, -1.16),
            (12.13, -1.08), (11.82, -1.94), (12.95, -1.95), (12.31, -0.70), (12.56, -0.65), (12.84, -0.85),
            (12.88, -0.65), (13.33, -0.45), (13.61, -0.39), (14.0, -0.41), (11.74, -0.59), (11.99, -0.36),
            (11.01, -2.54), (9.79, -2.71), (9.69, -2.71), (4.21, -2.77), (3.53, -3.05), (5.24, -3.11),
            (4.79, -3.28), (5.07, -3.28), (4.91, -3.80), (3.96, -4.21), (5.64, -3.94), (6.66, -3.91),
            (6.38, -3.45), (6.46, -3.60), (6.16, -3.05), (6.94, -3.17), (7.38, -2.94), (7.84, -2.91),
            (8.25, -3.34), (8.57, -2.77), (8.72, -3.46), (8.33, -2.94)]

# ---- Larva gut & bee bread addition
mix_up = [(3.98, 7.72), (5.37, 6.69), (6.13, 6.82), (8.44, 6.32), (5.84, 5.47), (6.00, 5.24),
          (6.33, 5.26), (6.40, 4.94), (6.01, 4.50), (6.67, 4.54), (7.20, 4.25), (6.11, 4.14),
          (5.47, 3.87), (7.47, 3.44), (7.64, 3.24)]
mix_down = [(5.31, -0.38)]
mix_ns = [(4.49, 5.02), (5.99, 4.78), (6.38, 4.72), (5.56, 4.50), (4.88, 3.74), (5.48, 3.69),
          (6.66, 3.79), (6.29, 3.58), (6.91, 3.56), (5.93, 3.48), (6.67, 3.40), (5.88, 3.28),
          (7.45, 3.15), (5.93, 2.84), (6.67, 2.85), (7.04, 2.75), (7.11, 2.58), (7.70, 2.72),
          (8.09, 2.84), (8.58, 2.53), (9.00, 2.49), (8.47, 2.35), (8.78, 2.32), (8.19, 2.28),
          (9.50, 2.26), (5.15, 2.44), (5.99, 2.15), (6.91, 2.05), (6.78, 1.92), (6.73, 1.80),
          (8.25, 1.86), (8.52, 1.63), (8.85, 1.23), (8.17, 0.89), (8.19, 0.58), (8.67, 0.64),
          (9.01, 0.67), (9.82, 0.51), (10.24, 0.49), (10.78, 0.33), (13.33, 0.18), (15.21, 0.15),
          (16.86, 0.04), (17.11, -0.10), (17.53, -0.18), (18.0, -0.05), (18.31, -0.03), (18.74, -0.03),
          (16.0, -0.13), (14.81, -0.16), (5.24, -0.63), (5.63, -0.48), (7.11, -0.60), (7.25, -0.83),
          (7.86, -0.58), (8.21, -0.63), (8.10, -0.82), (8.06, -1.06), (8.11, -1.62), (6.13, -1.72),
          (7.04, -1.99), (7.03, -3.18), (10.35, -0.58), (10.89, -0.64), (9.40, -0.55), (12.13, -0.46)]

panels = [
    (adult_ns, adult_up, adult_down, adult_env_hi, adult_env_lo),
    (bread_ns, bread_up, bread_down, bread_env_hi, bread_env_lo),
    (hive_ns, hive_up, hive_down, hive_env_hi, hive_env_lo),
    (larva_ns, larva_up, larva_down, larva_env_hi, larva_env_lo),
    (mix_ns, mix_up, mix_down, mix_env_hi, mix_env_lo),
]

fig = plt.figure(figsize=(15, 10), dpi=300)
col_left = [0.0416, 0.3618, 0.6818]
row_bottom = [0.5563, 0.0623]
ax_w, ax_h = 0.3098, 0.3998
slots = [(0, 0), (0, 1), (0, 2), (1, 0), (1, 1)]
title_x = [0.036, 0.036, 0.042, 0.037, 0.019]
legend_x = [0.0495, 0.051, 0.029, 0.040, 0.051]

for i, (ns, up, down, hi, lo) in enumerate(panels):
    r, c = slots[i]
    ax = fig.add_axes([col_left[c], row_bottom[r], ax_w, ax_h])

    df = pd.concat([
        pd.DataFrame(ns, columns=["x", "y"]).assign(status="NS"),
        pd.DataFrame(up, columns=["x", "y"]).assign(status="Up"),
        pd.DataFrame(down, columns=["x", "y"]).assign(status="Down"),
    ], ignore_index=True)

    ax.fill_between(env_x, lo, hi, color=GREY, lw=0.8, zorder=1)
    sns.scatterplot(data=df, x="x", y="y", hue="status",
                    palette={"NS": GREY, "Up": RED, "Down": BLUE},
                    s=14, linewidth=0, legend=False, ax=ax, zorder=2)
    ax.axhline(0, color="black", lw=0.8, zorder=3)

    ax.set_xlim(-0.9, 18.9)
    ax.set_ylim(-6.7, 8.7)
    ax.set_xticks(range(0, 19, 2))
    ax.set_yticks([-4, 0, 4, 8])
    for s in ["top", "right"]:
        ax.spines[s].set_visible(False)
    for s in ["left", "bottom"]:
        ax.spines[s].set_color("#333333")
        ax.spines[s].set_linewidth(1.7)
    ax.tick_params(axis="both", length=3, width=1.7, color="#333333",
                   labelcolor="#4D4D4D", labelsize=13, pad=2.5, direction="out")
    ax.tick_params(axis="x", bottom=True)

    if c == 0:
        ax.tick_params(axis="y", left=True)
        ax.set_ylabel("Log2 fold change", fontsize=15, color="black", labelpad=4)
        ax.set_xlabel("Log2 mean expression", fontsize=15, color="black", labelpad=3)
    else:
        ax.spines["left"].set_visible(False)
        ax.tick_params(axis="y", left=False, labelleft=False)
        ax.tick_params(axis="x", labelbottom=False)
        ax.set_xlabel("")
        ax.set_ylabel("")

    ax.text(title_x[i], 0.954, titles[i], transform=ax.transAxes, fontsize=16.8,
            fontweight="bold", color="#4D4D4D", ha="left", va="baseline")

    handles = [Line2D([0], [0], marker="o", ls="", color=col, markersize=7.2)
               for col in (RED, BLUE, GREY)]
    labels = [f"Up: {up_counts[i]}", f"Down: {down_counts[i]}", "NS"]
    ax.legend(handles, labels, loc="lower left",
              bbox_to_anchor=(legend_x[i] - 27 / 1394, 0.009),
              frameon=False, fontsize=13, handlelength=1.0, handletextpad=0.63,
              labelspacing=0.39, borderpad=0, borderaxespad=0)

fig.savefig("out.png", dpi=300)
